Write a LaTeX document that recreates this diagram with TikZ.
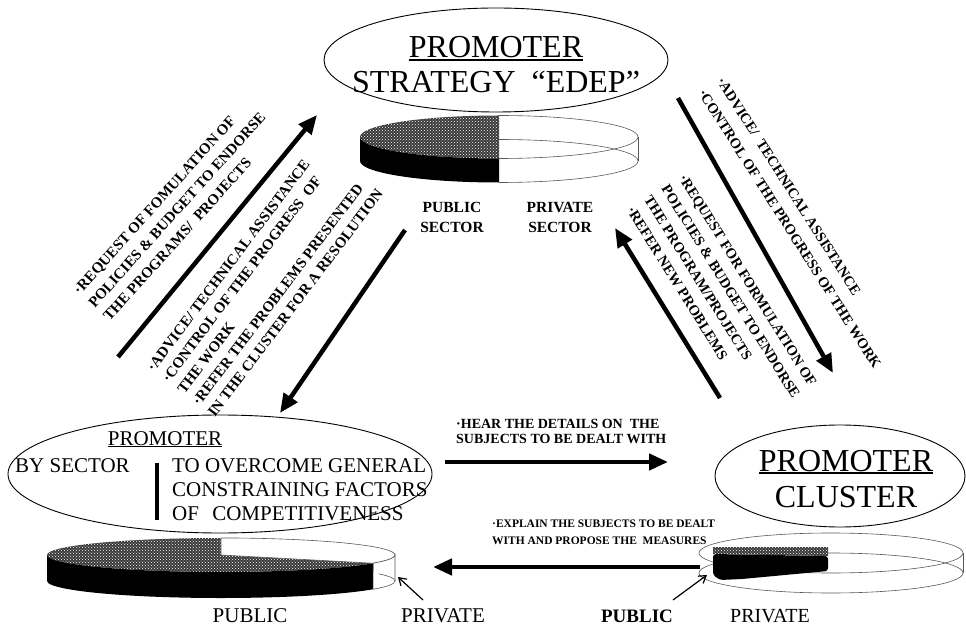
\documentclass[tikz,border=0pt]{standalone}
\usepackage{fontspec}
\setmainfont{Liberation Serif}
\usetikzlibrary{shapes.geometric,arrows.meta,patterns}

% heavy underline for the promoter titles
\newsavebox{\ulbox}
\newcommand{\thickul}[1]{\sbox{\ulbox}{#1}\rlap{\raisebox{-0.1em}{\rule{\wd\ulbox}{0.06em}}}\usebox{\ulbox}}

\begin{document}
\begin{tikzpicture}[x=1pt,y=1pt,
  bubble/.style={draw, ellipse, line width=0.9pt, inner sep=0pt},
  bigarrow/.style={line width=4.5pt, -{Triangle[length=19pt,width=16pt]}},
  thinarrow/.style={line width=1.2pt, -{Straight Barb[length=7pt,width=9pt]}},
  flow/.style={font=\bfseries\fontsize{15}{20}\selectfont, align=left, inner sep=0pt},
  title/.style={font=\fontsize{32}{36}\selectfont, inner sep=0pt},
  mid/.style={font=\fontsize{21}{24}\selectfont, inner sep=0pt},
  sectorlbl/.style={font=\bfseries\fontsize{15.5}{20}\selectfont, align=center, inner sep=0pt},
  foot/.style={font=\fontsize{21}{24}\selectfont, inner sep=0pt, anchor=base},
  stipple/.style={fill=black!78, postaction={pattern=crosshatch dots, pattern color=white}},
  rim/.style={draw=black!65, line width=0.6pt},
]
\useasboundingbox (0,0) rectangle (966,627);
\fill[white] (0,0) rectangle (966,627);

% ---------- strategy EDEP (top) ----------
\node[bubble, minimum width=344pt, minimum height=104pt] (edep) at (496,567) {};
\node[title, anchor=base] (edepA) at (496,569) {\thickul{PROMOTER}};
\node[title, anchor=base] (edepB) at (496,534) {STRATEGY\ \ “EDEP”};

% public / private disk under the strategy bubble
\path[stipple] (499,511.5) arc[start angle=90,end angle=270,x radius=139pt,y radius=21.5pt] -- cycle;
\fill[black] (360,490) arc[start angle=180,end angle=270,x radius=139pt,y radius=21.5pt]
  -- ++(0,-24) arc[start angle=270,end angle=180,x radius=139pt,y radius=21.5pt] -- cycle;
\draw[rim] (499,511.5) arc[start angle=90,end angle=-90,x radius=139pt,y radius=21.5pt];
\draw[rim] (499,487.5) arc[start angle=90,end angle=-90,x radius=139pt,y radius=21.5pt];
\draw[rim] (638,490) -- (638,466);
\node[sectorlbl] (pubtop) at (452,410) {PUBLIC\\SECTOR};
\node[sectorlbl] (pritop) at (560,410) {PRIVATE\\SECTOR};

% ---------- promoter by sector (bottom left) ----------
\node[bubble, minimum width=424pt, minimum height=118pt] (bysector) at (220,153) {};
\node[mid, anchor=base] (bsA) at (165,182) {\thickul{PROMOTER}};
\node[mid, anchor=base west] (bsB) at (15,155) {BY SECTOR};
\draw[line width=4pt] (157,164) -- (157,107);
\node[mid, anchor=north west, align=left] (bsC) at (172,169)
  {TO OVERCOME GENERAL\\CONSTRAINING FACTORS\\OF\hspace{8pt} COMPETITIVENESS};

% disk under the sector bubble
\path[stipple] (221,72) -- (221,89) arc[start angle=90,end angle=331,x radius=174pt,y radius=17pt] -- cycle;
\fill[black] (47,72) arc[start angle=180,end angle=331,x radius=174pt,y radius=17pt]
  -- ++(0,-26) arc[start angle=331,end angle=180,x radius=174pt,y radius=17pt] -- cycle;
\draw[rim, fill=white] (221,72) -- (373.2,63.8) arc[start angle=331,end angle=450,x radius=174pt,y radius=17pt] -- cycle;
\draw[rim, fill=white] (373.2,63.8) arc[start angle=331,end angle=360,x radius=174pt,y radius=17pt]
  -- (395,46) arc[start angle=360,end angle=331,x radius=174pt,y radius=17pt] -- cycle;
\draw[rim] (395,46) arc[start angle=0,end angle=25,x radius=174pt,y radius=17pt];

% ---------- promoter cluster (bottom right) ----------
\node[bubble, minimum width=250pt, minimum height=102pt] (cluster) at (840,151) {};
\node[title, anchor=base] (clA) at (846,156) {\thickul{PROMOTER}};
\node[title, anchor=base] (clB) at (846,120) {CLUSTER};

% disk under the cluster bubble
\draw[rim] (831,74) ellipse[x radius=132pt, y radius=20pt];
\draw[rim] (831,54) ellipse[x radius=132pt, y radius=20pt];
\draw[rim] (963,74) -- (963,54);
\fill[black, rounded corners=3pt] (713,73) -- (828,71) -- (828,56) -- (742,48) -- (720,47) -- (713,52) -- cycle;
\path[stipple] (713,80) -- (828,80) -- (828,71) -- (713,73) -- cycle;

% ---------- bottom labels ----------
\node[foot] (pubL) at (250,5) {PUBLIC};
\node[foot] (priL) at (443,5) {PRIVATE};
\node[foot, font=\bfseries\fontsize{19}{22}\selectfont] (pubR) at (637,5) {PUBLIC};
\node[foot, font=\fontsize{20}{24}\selectfont] (priR) at (770,5) {PRIVATE};
\coordinate (priLtail) at (423,27);  \coordinate (priLtip) at (398,50);
\coordinate (pubRtail) at (673,27);  \coordinate (pubRtip) at (707,52);
\draw[thinarrow] (priLtail) -- (priLtip);
\draw[thinarrow] (pubRtail) -- (pubRtip);

% ---------- flows between the promoters ----------
\coordinate (upLs) at (118,270);  \coordinate (upLe) at (317,512);
\coordinate (dnLs) at (405,397);  \coordinate (dnLe) at (280,214);
\coordinate (dnRs) at (678,529);  \coordinate (dnRe) at (833,254);
\coordinate (upRs) at (720,229);  \coordinate (upRe) at (615,399);
\coordinate (hearS) at (445,165); \coordinate (hearE) at (668,165);
\coordinate (explS) at (700,60);  \coordinate (explE) at (433,60);
\draw[bigarrow] (upLs) -- (upLe);
\draw[bigarrow] (dnLs) -- (dnLe);
\draw[bigarrow] (dnRs) -- (dnRe);
\draw[bigarrow] (upRs) -- (upRe);
\draw[bigarrow] (hearS) -- (hearE);
\draw[bigarrow] (explS) -- (explE);

\node[flow, rotate=48] (txtA) at (177,417)
  {·REQUEST OF FOMULATION OF\\POLICIES \& BUDGET TO ENDORSE\\THE PROGRAMS/\ \ PROJECTS};
\node[flow, rotate=53, font=\bfseries\fontsize{15}{19}\selectfont] (txtB) at (265,347)
  {·ADVICE/ TECHNICAL ASSISTANCE\\·CONTROL OF THE PROGRESS\ \ OF\\THE WORK\\·REFER THE PROBLEMS PRESENTED\\IN THE CLUSTER FOR A RESOLUTION};
\node[flow, rotate=-57.5, font=\bfseries\fontsize{14.5}{22}\selectfont] (txtC) at (799,404)
  {·ADVICE/\ \ TECHNICAL ASSISTANCE\\·CONTROL OF THE PROGRESS OF THE WORK};
\node[flow, rotate=-58, font=\bfseries\fontsize{14.5}{20.5}\selectfont] (txtD) at (722,330)
  {·REQUEST FOR FORMULATION OF\\POLICIES \& BUDGET TO ENDORSE\\THE PROGRAM/PROJECTS\\·REFER NEW PROBLEMS};

\node[flow, anchor=north west, font=\bfseries\fontsize{14}{15}\selectfont] (txtHear) at (456,208)
  {·HEAR THE DETAILS ON\ \ THE\\SUBJECTS TO BE DEALT WITH};
\node[flow, anchor=north west, font=\bfseries\fontsize{11.5}{17}\selectfont] (txtExpl) at (492,107)
  {·EXPLAIN THE SUBJECTS TO BE DEALT\\WITH AND PROPOSE THE\ \ MEASURES};
\end{tikzpicture}
\end{document}
